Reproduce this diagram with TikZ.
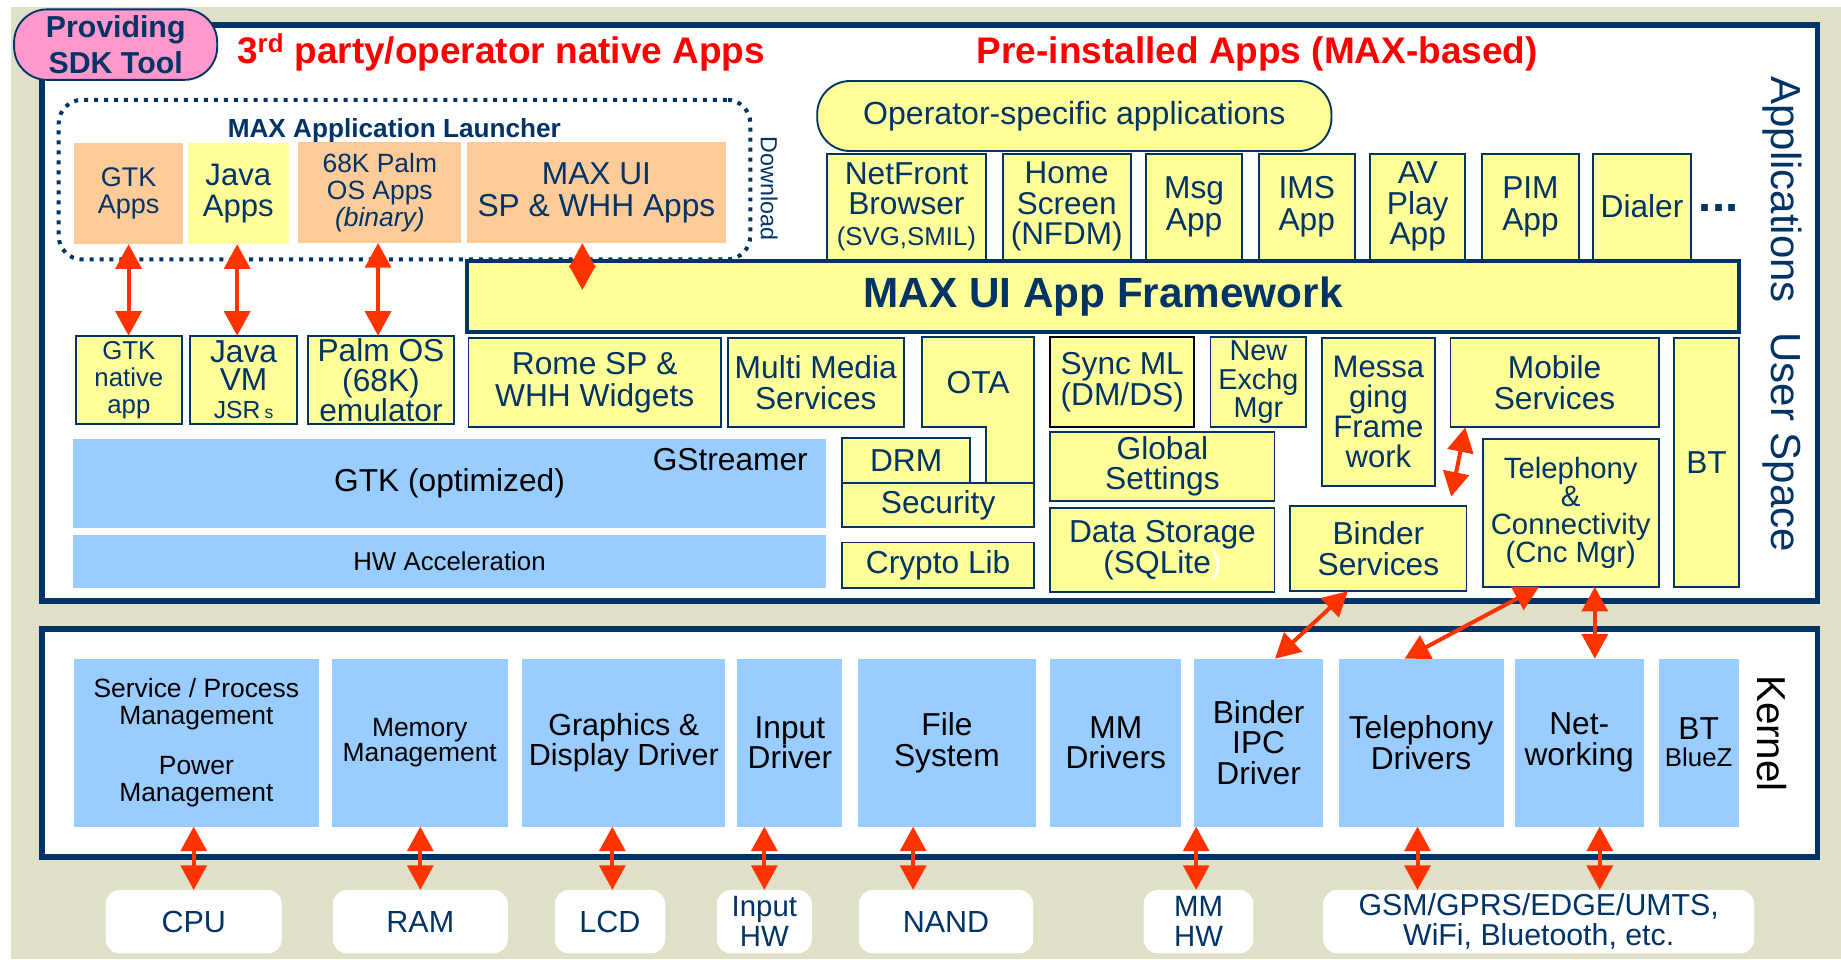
\documentclass[tikz,border=0pt]{standalone}
\usepackage{fontspec}
\setmainfont{Liberation Sans}
\usetikzlibrary{arrows.meta}
\definecolor{navy}{HTML}{003366}
\definecolor{yel}{HTML}{FFFF99}
\definecolor{org}{HTML}{FFCC99}
\definecolor{blu}{HTML}{99CCFF}
\definecolor{pnk}{HTML}{FF99CC}
\definecolor{beige}{HTML}{E0E0C8}
\definecolor{arrc}{HTML}{FF3300}
\definecolor{redt}{HTML}{FF0000}
\newcommand\fs[2]{\fontsize{#1}{#2}\selectfont}
\newcommand\bx[7]{\node[#1, minimum width={#5-#3}, minimum height={#6-#4}] (#2) at (#3,#4) {#7};}
\begin{document}
\begin{tikzpicture}[x=1pt,y=-1pt,
  base/.style={anchor=north west, inner sep=0pt, outer sep=0pt, align=center},
  frame/.style={base, draw=navy, line width=5pt, fill=white},
  ybox/.style={base, draw=navy, line width=1.6pt, fill=yel, text=navy, font=\fs{27}{27}},
  obox/.style={base, fill=org, text=navy, font=\fs{27}{27}},
  bbox/.style={base, fill=blu, text=black, font=\fs{27}{26}},
  hwbox/.style={base, fill=white, rounded corners=12pt, text=navy, font=\fs{26}{25.6}},
  harr/.style={draw=arrc, line width=3.4pt, {Triangle[width=22pt,length=21pt]}-{Triangle[width=22pt,length=21pt]}},
  lbl/.style={inner sep=0pt, outer sep=0pt}]
\useasboundingbox (0,0) rectangle (1568,817);
\fill[white] (0,0) rectangle (1568,817);
\fill[beige] (9,6) rectangle (1568,817);

% frames
\bx{frame}{userframe}{36}{21}{1548}{512}{}
\bx{frame}{kernelframe}{36}{536}{1548}{730}{}

% SDK tool badge
\bx{base, draw=navy, line width=1.6pt, fill=pnk, rounded corners=28pt, text=navy, font=\bfseries\fs{25.8}{30}}{sdk}{12}{8}{185}{68}{Providing\\SDK Tool}

% headings
\node[lbl, anchor=base west, text=redt, font=\bfseries\fs{31.5}{31.5}] (hthird) at (202,54) {3\textsuperscript{rd} party/operator native Apps};
\node[lbl, anchor=base west, text=redt, font=\bfseries\fs{31.5}{31.5}] (hpre) at (832,54) {Pre-installed Apps (MAX-based)};

% launcher
\bx{base, draw=navy, line width=3.4pt, dash pattern=on 3.4pt off 5.1pt, rounded corners=20pt}{launcher}{50}{85}{639}{221}{}
\node[lbl, anchor=base west, text=navy, font=\bfseries\fs{22.3}{22}] (launchertitle) at (194,117) {MAX Application Launcher};
\bx{obox, font=\fs{23}{23}}{gtkapps}{63}{122}{156}{208}{GTK\\Apps}
\bx{obox, fill=yel, font=\fs{26.5}{26}}{javaapps}{160}{122}{246}{208}{Java\\Apps}
\bx{obox, font=\fs{22.5}{23}}{palmapps}{254}{121}{393}{207}{68K Palm\\OS Apps\\\textit{(binary)}}
\bx{obox, font=\fs{27}{27}}{maxuiapps}{398}{121}{618}{207}{MAX UI\\SP \& WHH Apps}
\node[lbl, anchor=base west, rotate=-90, text=navy, font=\fs{19.8}{20}] (download) at (648,116.5) {Download};

% pre-installed apps
\bx{ybox, rounded corners=28pt, font=\fs{27.3}{27}}{operator}{696}{69}{1134}{128.6}{Operator-specific applications}
\bx{ybox, font=\fs{27}{26}}{netfront}{704}{131}{840}{221}{NetFront\\Browser\\{\fs{22}{24}(SVG,SMIL)}}
\bx{ybox, font=\fs{26.8}{26}}{home}{854}{131}{963}{221}{Home\\Screen\\(NFDM)}
\bx{ybox}{msgapp}{976}{131}{1058}{221}{Msg\\App}
\bx{ybox}{imsapp}{1072}{131}{1154}{221}{IMS\\App}
\bx{ybox, font=\fs{27}{26}}{avapp}{1167}{131}{1248}{221}{AV\\Play\\App}
\bx{ybox}{pimapp}{1262}{131}{1345}{221}{PIM\\App}
\bx{ybox}{dialer}{1357}{131}{1440}{221}{Dialer}
\node[lbl, anchor=base west, text=navy, font=\bfseries\fs{40}{40}] (moredots) at (1447,180) {...};
\node[lbl, anchor=base west, rotate=-90, text=navy, font=\fs{35.8}{36}] (tapps) at (1509,65) {Applications};
\node[lbl, anchor=base west, rotate=-90, text=navy, font=\fs{35.8}{36}] (tuser) at (1509,283) {User Space};

% framework
\bx{ybox, line width=3.2pt, font=\bfseries\fs{36}{36}}{framework}{398}{222}{1481}{283}{MAX UI App Framework}

% runtimes
\bx{ybox, font=\fs{22}{23}}{gtknative}{64.5}{286}{155}{361}{GTK\\native\\app}
\bx{ybox, font=\fs{27}{24}}{javavm}{162}{286}{253}{361}{Java\\VM\\{\fs{21}{24}JSR\,\fs{15}{24}s}}
\bx{ybox, font=\fs{27}{25.6}}{palmos}{262}{286}{387}{361}{Palm OS\\(68K)\\emulator}
\bx{ybox}{rome}{399}{288}{614}{363.5}{Rome SP \&\\WHH Widgets}
\bx{ybox}{multimedia}{620}{288}{769.6}{364}{Multi Media\\Services}
\draw[fill=yel, draw=navy, line width=1.6pt] (785,287) -- (881,287) -- (881,411.6) -- (840,411.6) -- (840,364) -- (785,364) -- cycle;
\node[lbl, text=navy, font=\fs{27}{27}] (ota) at (833,325.5) {OTA};
\bx{ybox, draw=black}{syncml}{894.6}{287}{1017}{364}{Sync ML\\(DM/DS)}
\bx{ybox, font=\fs{24.5}{24}}{newexchg}{1031}{287}{1112.5}{364}{New\\Exchg\\Mgr}
\bx{ybox, font=\fs{26.5}{25.6}}{messaging}{1126}{288}{1222}{414}{Messa\\ging\\Frame\\work}
\bx{ybox}{mobile}{1235.4}{288}{1412.6}{364}{Mobile\\Services}
\bx{ybox}{bt}{1426}{288}{1481}{500}{BT}

\bx{bbox}{gtk}{62}{374}{703.7}{449.6}{GTK (optimized)}
\node[lbl, anchor=base east, text=black, font=\fs{27}{27}] (gstreamer) at (688,400.4) {GStreamer};
\bx{bbox, font=\fs{22}{22}}{hwaccel}{62}{456}{703.7}{500.7}{HW Acceleration}
\bx{ybox}{drm}{717}{373}{826.5}{411.6}{DRM}
\bx{ybox}{security}{717}{411.6}{881}{449}{Security}
\bx{ybox}{crypto}{717}{462}{881}{501}{Crypto Lib}
\bx{ybox, font=\fs{27}{26}}{global}{894.6}{367.8}{1085.5}{426.6}{Global\\Settings}
\bx{ybox, font=\fs{27}{26}}{datastorage}{894.6}{433}{1085.5}{504.5}{Data Storage\\(SQLite\textcolor{white}{)}}
\bx{ybox, font=\fs{27}{26}}{binderserv}{1099}{431}{1249}{503.5}{Binder\\Services}
\bx{ybox, font=\fs{25}{24}}{telephony}{1263}{374}{1412.6}{499.8}{Telephony\\\&\\Connectivity\\(Cnc Mgr)}

% kernel
\bx{bbox, font=\fs{22.5}{22.7}}{svc}{63}{561}{271.5}{704}{Service / Process\\Management\\[20pt]Power\\Management}
\bx{bbox, font=\fs{22.5}{21.5}}{memory}{282.5}{561}{432.5}{704}{Memory\\Management}
\bx{bbox, font=\fs{26}{25.6}}{graphics}{445}{561}{617.5}{704}{Graphics \&\\Display Driver}
\bx{bbox}{inputdrv}{628}{561}{717.5}{704}{Input\\Driver}
\bx{bbox}{filesys}{731}{561}{882}{704}{File\\System}
\bx{bbox}{mmdrivers}{894.6}{561}{1006}{704}{MM\\Drivers}
\bx{bbox}{binderipc}{1017}{561}{1127}{704}{Binder\\IPC\\Driver}
\bx{bbox}{teldrivers}{1140}{561}{1280.6}{704}{Telephony\\Drivers}
\bx{bbox}{networking}{1290}{561}{1400}{704}{Net-\\working}
\bx{bbox, font=\fs{27}{23}}{btbluez}{1412.6}{561}{1481}{704}{BT\\{\fs{22}{23}BlueZ}}
\node[lbl, anchor=base west, rotate=-90, text=black, font=\fs{34.4}{34}] (tkernel) at (1497,575) {Kernel};

% hardware
\bx{hwbox}{cpu}{90}{758}{240}{812}{CPU}
\bx{hwbox}{ram}{283.5}{758}{432.5}{812}{RAM}
\bx{hwbox}{lcd}{472.5}{758}{566.6}{812}{LCD}
\bx{hwbox, font=\fs{25}{25.6}}{inputhw}{610.5}{758}{691.5}{812}{Input\\HW}
\bx{hwbox}{nand}{731.5}{758}{880}{812}{NAND}
\bx{hwbox, font=\fs{25}{25.6}}{mmhw}{974}{758}{1067.6}{812}{MM\\HW}
\bx{hwbox, font=\fs{25.8}{25.6}}{gsm}{1127}{758}{1494}{812}{GSM/GPRS/EDGE/UMTS,\\WiFi, Bluetooth, etc.}

% connectors
\coordinate (fwin) at (496,247);
\coordinate (mbend) at (1236,423);
\draw[harr] (gtkapps.south) -- (gtkapps.south |- gtknative.north);
\draw[harr] ([xshift=-1pt]javaapps.south) -- ([xshift=-1pt]javaapps.south |- javavm.north);
\draw[harr] ([xshift=-1.5pt]palmapps.south) -- ([xshift=-1.5pt]palmapps.south |- palmos.north);
\draw[harr] ([xshift=-12pt]maxuiapps.south) -- (fwin);
\draw[harr] ([xshift=-76pt]mobile.south) -- (mbend);
\draw[harr] ([xshift=-26pt]binderserv.south) -- ([xshift=14pt]binderipc.north);
\draw[harr] ([xshift=-27pt]telephony.south) -- ([xshift=-14pt]teldrivers.north);
\draw[harr] ([xshift=20.5pt]telephony.south) -- ([xshift=20.5pt]telephony.south |- networking.north);
\draw[harr] (cpu.north) -- (cpu.north |- svc.south);
\draw[harr] (ram.north) -- (ram.north |- memory.south);
\draw[harr] ([xshift=2pt]lcd.north) -- ([xshift=2pt]lcd.north |- graphics.south);
\draw[harr] (inputhw.north) -- (inputhw.north |- inputdrv.south);
\draw[harr] ([xshift=-28pt]nand.north) -- ([xshift=-28pt]nand.north |- filesys.south);
\draw[harr] ([xshift=-2pt]mmhw.north) -- ([xshift=-2pt]mmhw.north |- binderipc.south);
\draw[harr] ([xshift=-3pt]teldrivers.south) -- ([xshift=-3pt]teldrivers.south |- gsm.north);
\draw[harr] ([xshift=17.5pt]networking.south) -- ([xshift=17.5pt]networking.south |- gsm.north);
\end{tikzpicture}
\end{document}
